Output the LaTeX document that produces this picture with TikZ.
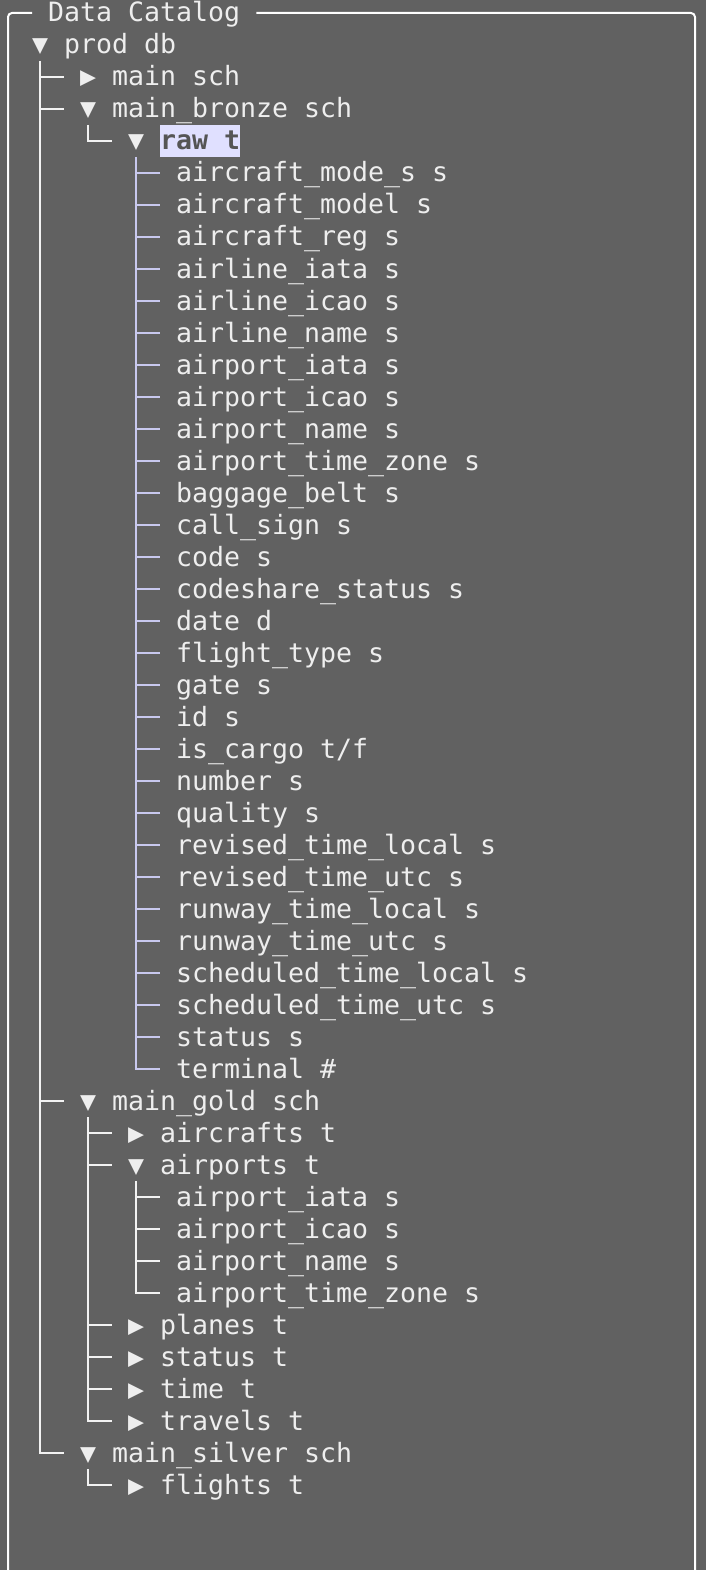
\documentclass[tikz,border=0pt]{standalone}
\usepackage{fontspec}
\newfontfamily\dmono{DejaVu Sans Mono}
\definecolor{bg}{HTML}{616161}
\definecolor{fg}{HTML}{EEEEEE}
\definecolor{gd}{HTML}{F2F2F2}
\definecolor{lav}{HTML}{C8C8EE}
\definecolor{hl}{HTML}{E0E0FF}
\definecolor{hltext}{HTML}{555555}
\tikzset{
  item/.style={anchor=base west, inner sep=0pt, text height=25pt, text depth=7pt,
    text=fg, font=\dmono\fontsize{26.58pt}{32pt}\selectfont},
  hlitem/.style={item, fill=hl, text=hltext,
    font=\dmono\bfseries\fontsize{26.58pt}{32pt}\selectfont},
  guide/.style={draw=gd, line width=2pt},
  guidehl/.style={draw=lav, line width=2pt},
  border/.style={draw=white, line width=2pt, rounded corners=4pt},
}
\newcommand\tnode[4]{\node[item] (#1) at ({16*#2},{22+32*#3}) {#4};}
% child connector: parent guide coordinate, child
\newcommand\kid[3][guide]{\draw[#1] (#2 |- #3.west) -- ([xshift=-16pt]#3.west);}
\newcommand\lastkid[3][guide]{\draw[#1] (#2) ++(0,16) |- ([xshift=-16pt]#3.west);}
\begin{document}
\begin{tikzpicture}[x=1pt,y=-1pt]
\fill[bg] (0,0) rectangle (706,1570);
\useasboundingbox (0,0) rectangle (706,1570);

% title and frame
\node[item] (title) at (48,22) {Data Catalog};
\draw[border] ([xshift=-16pt]title.west) -| (8,1580);
\draw[border] ([xshift=16pt]title.east) -| (695,1580);

% tree
\tnode{prod}{2}{1}{▼ prod db}
\tnode{main}{5}{2}{▶ main sch}
\tnode{bronze}{5}{3}{▼ main\_bronze sch}
\tnode{raw}{8}{4}{▼}
\node[hlitem] (rawt) at (160,{22+32*4}) {raw t};
\tnode{c5}{11}{5}{aircraft\_mode\_s s}
\tnode{c6}{11}{6}{aircraft\_model s}
\tnode{c7}{11}{7}{aircraft\_reg s}
\tnode{c8}{11}{8}{airline\_iata s}
\tnode{c9}{11}{9}{airline\_icao s}
\tnode{c10}{11}{10}{airline\_name s}
\tnode{c11}{11}{11}{airport\_iata s}
\tnode{c12}{11}{12}{airport\_icao s}
\tnode{c13}{11}{13}{airport\_name s}
\tnode{c14}{11}{14}{airport\_time\_zone s}
\tnode{c15}{11}{15}{baggage\_belt s}
\tnode{c16}{11}{16}{call\_sign s}
\tnode{c17}{11}{17}{code s}
\tnode{c18}{11}{18}{codeshare\_status s}
\tnode{c19}{11}{19}{date d}
\tnode{c20}{11}{20}{flight\_type s}
\tnode{c21}{11}{21}{gate s}
\tnode{c22}{11}{22}{id s}
\tnode{c23}{11}{23}{is\_cargo t/f}
\tnode{c24}{11}{24}{number s}
\tnode{c25}{11}{25}{quality s}
\tnode{c26}{11}{26}{revised\_time\_local s}
\tnode{c27}{11}{27}{revised\_time\_utc s}
\tnode{c28}{11}{28}{runway\_time\_local s}
\tnode{c29}{11}{29}{runway\_time\_utc s}
\tnode{c30}{11}{30}{scheduled\_time\_local s}
\tnode{c31}{11}{31}{scheduled\_time\_utc s}
\tnode{c32}{11}{32}{status s}
\tnode{c33}{11}{33}{terminal \#}
\tnode{gold}{5}{34}{▼ main\_gold sch}
\tnode{aircrafts}{8}{35}{▶ aircrafts t}
\tnode{airports}{8}{36}{▼ airports t}
\tnode{a37}{11}{37}{airport\_iata s}
\tnode{a38}{11}{38}{airport\_icao s}
\tnode{a39}{11}{39}{airport\_name s}
\tnode{a40}{11}{40}{airport\_time\_zone s}
\tnode{planes}{8}{41}{▶ planes t}
\tnode{status}{8}{42}{▶ status t}
\tnode{time}{8}{43}{▶ time t}
\tnode{travels}{8}{44}{▶ travels t}
\tnode{silver}{5}{45}{▼ main\_silver sch}
\tnode{flights}{8}{46}{▶ flights t}

% guide coordinates (under each open triangle)
\foreach \p in {prod,bronze,raw,gold,airports,silver}
  \coordinate (g-\p) at ([xshift=8pt]\p.west);

% prod db children
\kid{g-prod}{main}
\kid{g-prod}{bronze}
\kid{g-prod}{gold}
\lastkid{g-prod}{silver}
% main_bronze children
\lastkid{g-bronze}{raw}
% raw t children
\foreach \i in {5,...,32}{\kid[guidehl]{g-raw}{c\i}}
\lastkid[guidehl]{g-raw}{c33}
% main_gold children
\foreach \n in {aircrafts,airports,planes,status,time}{\kid{g-gold}{\n}}
\lastkid{g-gold}{travels}
% airports children
\foreach \i in {37,38,39}{\kid{g-airports}{a\i}}
\lastkid{g-airports}{a40}
% main_silver children
\lastkid{g-silver}{flights}
\end{tikzpicture}
\end{document}
